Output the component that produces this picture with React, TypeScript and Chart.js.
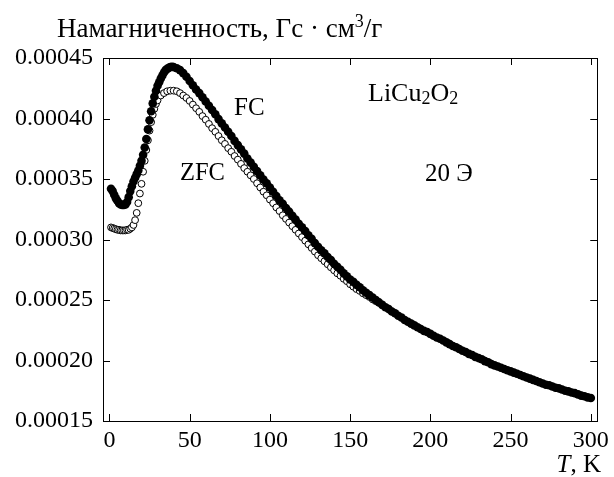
import React, { useEffect, useRef } from "react";
import { Chart, registerables } from "chart.js";
Chart.register(...registerables);

// FC (field cooled) magnetization, emu/g vs T, K
const fcT = [1,2,3,4,5,6,7,8,9,10,11,12,13,14,15,16,17,18,19,20,21,22,23,24,25,26,27,28,29,30,31,32,33,34,35,36,37,38,39,40,42,44,46,48,50,52,54,56,58,60,62,64,66,68,70,72,74,76,78,80,82,84,86,88,90,92,94,96,98,100,102,104,106,108,110,112,114,116,118,120,122,124,126,128,130,132,134,136,138,140,142,144,146,148,150,152,154,156,158,160,162,164,166,168,170,172,174,176,178,180,182,184,186,188,190,192,194,196,198,200,202,204,206,208,210,212,214,216,218,220,222,224,226,228,230,232,234,236,238,240,242,244,246,248,250,252,254,256,258,260,262,264,266,268,270,272,274,276,278,280,282,284,286,288,290,292,294,296,298,300];
const fcM = [3.42e-4,3.40e-4,3.37e-4,3.34e-4,3.32e-4,3.30e-4,3.29e-4,3.285e-4,3.285e-4,3.29e-4,3.31e-4,3.35e-4,3.40e-4,3.44e-4,3.48e-4,3.51e-4,3.54e-4,3.57e-4,3.61e-4,3.65e-4,3.70e-4,3.76e-4,3.83e-4,3.91e-4,3.985e-4,4.06e-4,4.125e-4,4.18e-4,4.23e-4,4.27e-4,4.30e-4,4.33e-4,4.355e-4,4.38e-4,4.40e-4,4.41e-4,4.42e-4,4.425e-4,4.427e-4,4.425e-4,4.415e-4,4.40e-4,4.375e-4,4.345e-4,4.31e-4,4.275e-4,4.24e-4,4.21e-4,4.175e-4,4.14e-4,4.105e-4,4.07e-4,4.035e-4,3.995e-4,3.96e-4,3.925e-4,3.89e-4,3.855e-4,3.815e-4,3.78e-4,3.745e-4,3.71e-4,3.67e-4,3.635e-4,3.60e-4,3.565e-4,3.53e-4,3.495e-4,3.465e-4,3.43e-4,3.395e-4,3.36e-4,3.325e-4,3.295e-4,3.26e-4,3.23e-4,3.195e-4,3.165e-4,3.13e-4,3.10e-4,3.07e-4,3.035e-4,3.005e-4,2.97e-4,2.94e-4,2.91e-4,2.885e-4,2.855e-4,2.83e-4,2.80e-4,2.775e-4,2.75e-4,2.72e-4,2.695e-4,2.67e-4,2.65e-4,2.625e-4,2.605e-4,2.58e-4,2.56e-4,2.54e-4,2.52e-4,2.50e-4,2.48e-4,2.46e-4,2.44e-4,2.425e-4,2.405e-4,2.39e-4,2.37e-4,2.355e-4,2.335e-4,2.32e-4,2.305e-4,2.29e-4,2.275e-4,2.26e-4,2.245e-4,2.235e-4,2.22e-4,2.205e-4,2.19e-4,2.18e-4,2.165e-4,2.15e-4,2.135e-4,2.12e-4,2.11e-4,2.095e-4,2.08e-4,2.07e-4,2.055e-4,2.045e-4,2.03e-4,2.02e-4,2.01e-4,1.995e-4,1.985e-4,1.97e-4,1.96e-4,1.95e-4,1.94e-4,1.93e-4,1.92e-4,1.91e-4,1.90e-4,1.89e-4,1.88e-4,1.87e-4,1.86e-4,1.85e-4,1.84e-4,1.83e-4,1.82e-4,1.81e-4,1.80e-4,1.795e-4,1.785e-4,1.775e-4,1.77e-4,1.76e-4,1.75e-4,1.745e-4,1.735e-4,1.73e-4,1.72e-4,1.71e-4,1.705e-4,1.695e-4,1.69e-4];

// ZFC (zero field cooled)
const zfcT = [1,2,3,4,5,6,7,8,9,10,11,12,13,14,15,16,17,18,19,20,21,22,23,24,25,26,27,28,29,30,32,34,36,38,40,42,44,46,48,50,52,54,56,58,60,62,64,66,68,70,72,74,76,78,80,82,84,86,88,90,92,94,96,98,100,102,104,106,108,110,112,114,116,118,120,122,124,126,128,130,132,134,136,138,140,142,144,146,148,150,152,154,156,158,160,162,164,166];
const zfcM = [3.10e-4,3.095e-4,3.09e-4,3.085e-4,3.08e-4,3.08e-4,3.075e-4,3.075e-4,3.075e-4,3.075e-4,3.08e-4,3.08e-4,3.09e-4,3.10e-4,3.12e-4,3.16e-4,3.22e-4,3.30e-4,3.38e-4,3.46e-4,3.56e-4,3.65e-4,3.74e-4,3.82e-4,3.90e-4,3.97e-4,4.03e-4,4.08e-4,4.12e-4,4.15e-4,4.19e-4,4.21e-4,4.225e-4,4.23e-4,4.23e-4,4.225e-4,4.21e-4,4.19e-4,4.17e-4,4.145e-4,4.115e-4,4.085e-4,4.055e-4,4.02e-4,3.99e-4,3.955e-4,3.92e-4,3.89e-4,3.855e-4,3.82e-4,3.79e-4,3.755e-4,3.725e-4,3.69e-4,3.66e-4,3.625e-4,3.59e-4,3.56e-4,3.53e-4,3.50e-4,3.465e-4,3.43e-4,3.395e-4,3.365e-4,3.33e-4,3.30e-4,3.265e-4,3.235e-4,3.20e-4,3.17e-4,3.14e-4,3.11e-4,3.08e-4,3.05e-4,3.02e-4,2.99e-4,2.96e-4,2.93e-4,2.90e-4,2.87e-4,2.845e-4,2.82e-4,2.795e-4,2.77e-4,2.745e-4,2.72e-4,2.70e-4,2.675e-4,2.655e-4,2.63e-4,2.61e-4,2.59e-4,2.575e-4,2.555e-4,2.54e-4,2.525e-4,2.505e-4,2.49e-4];

const xTicks = [0, 50, 100, 150, 200, 250, 300];
const yTicks = [0.00015, 0.0002, 0.00025, 0.0003, 0.00035, 0.0004, 0.00045];
const yTickLabels = ["0.00015", "0.00020", "0.00025", "0.00030", "0.00035", "0.00040", "0.00045"];

const SERIF = "'Liberation Serif', 'Times New Roman', serif";

const framePlugin = {
  id: "frameAndText",
  afterDraw(chart: any) {
    const { ctx, chartArea: a, scales } = chart;
    const xs = scales.x, ys = scales.y;
    ctx.save();
    ctx.strokeStyle = "#000";
    ctx.lineWidth = 1;
    ctx.strokeRect(Math.round(a.left) + 0.5, Math.round(a.top) + 0.5, Math.round(a.right - a.left), Math.round(a.bottom - a.top));
    const TL = 7;
    ctx.beginPath();
    xTicks.forEach((v) => {
      const px = Math.round(xs.getPixelForValue(v)) + 0.5;
      ctx.moveTo(px, a.bottom); ctx.lineTo(px, a.bottom - TL);
      ctx.moveTo(px, a.top); ctx.lineTo(px, a.top + TL);
    });
    yTicks.forEach((v) => {
      const py = Math.round(ys.getPixelForValue(v)) + 0.5;
      ctx.moveTo(a.left, py); ctx.lineTo(a.left + TL, py);
      ctx.moveTo(a.right, py); ctx.lineTo(a.right - TL, py);
    });
    ctx.stroke();

    ctx.fillStyle = "#000";
    ctx.textBaseline = "alphabetic";
    ctx.textAlign = "left";
    const F = (s: number, it = false) => `${it ? "italic " : ""}${s}px ${SERIF}`;
    const seq = (x: number, y: number, parts: [string, number, number, boolean?][]) => {
      let cx = x;
      parts.forEach(([t, size, dy, it]) => {
        ctx.font = F(size, !!it);
        ctx.fillText(t, cx, y + dy);
        cx += ctx.measureText(t).width;
      });
    };
    // y-axis title
    seq(57, 37, [["Намагниченность, Гс · см", 27, 0], ["3", 18, -10], ["/г", 27, 0]]);
    // x-axis title
    ctx.font = F(25, true);
    const wT = ctx.measureText("T").width;
    ctx.font = F(25);
    const wK = ctx.measureText(", K").width;
    seq(601 - wT - wK, 472, [["T", 25, 0, true], [", K", 25, 0]]);
    // annotations
    seq(234, 115, [["FC", 25, 0]]);
    seq(180, 180, [["ZFC", 24.5, 0]]);
    seq(368, 101, [["LiCu", 26, 0], ["2", 18, 3], ["O", 26, 0], ["2", 18, 3]]);
    seq(425, 181, [["20 Э", 25, 0]]);
    ctx.restore();
  },
};

export default function App() {
  const ref = useRef<HTMLCanvasElement>(null);
  useEffect(() => {
    if (!ref.current) return;
    const chart = new Chart(ref.current, {
      type: "scatter",
      data: {
        datasets: [
          {
            label: "FC",
            data: fcT.map((t, i) => ({ x: t, y: fcM[i] })),
            pointRadius: 4.3,
            pointBorderWidth: 0,
            pointBackgroundColor: "#000",
            pointBorderColor: "#000",
            showLine: false,
          },
          {
            label: "ZFC",
            data: zfcT.map((t, i) => ({ x: t, y: zfcM[i] })),
            pointRadius: 3.4,
            pointBorderWidth: 1,
            pointBackgroundColor: "#fff",
            pointBorderColor: "#000",
            showLine: false,
          },
        ],
      },
      options: {
        responsive: false,
        animation: false,
        layout: { padding: { top: 58, right: 12, left: 0, bottom: 0 } },
        plugins: { legend: { display: false }, tooltip: { enabled: false }, title: { display: false } },
        scales: {
          x: {
            type: "linear",
            min: -4,
            max: 304,
            grid: { display: false, drawTicks: false },
            border: { display: false },
            afterBuildTicks: (s: any) => { s.ticks = xTicks.map((v) => ({ value: v })); },
            afterFit: (s: any) => { s.height = 56; },
            ticks: {
              padding: 5,
              color: "#000",
              font: { family: SERIF, size: 24 },
              maxRotation: 0,
              autoSkip: false,
              callback: (v: any) => String(v),
            },
          },
          y: {
            type: "linear",
            min: 0.00015,
            max: 0.00045,
            grid: { display: false, drawTicks: false },
            border: { display: false },
            afterBuildTicks: (s: any) => { s.ticks = yTicks.map((v) => ({ value: v })); },
            afterFit: (s: any) => { s.width = 103; },
            ticks: {
              padding: 10,
              color: "#000",
              font: { family: SERIF, size: 24 },
              autoSkip: false,
              callback: (v: any) => {
                const i = yTicks.findIndex((t) => Math.abs(t - v) < 1e-9);
                return i >= 0 ? yTickLabels[i] : "";
              },
            },
          },
        },
      },
      plugins: [framePlugin],
    } as any);
    return () => chart.destroy();
  }, []);
  return (
    <div style={{ position: "absolute", left: 0, top: 0, width: 614, height: 477, background: "#fff" }}>
      <canvas ref={ref} width={614} height={477} style={{ display: "block" }} />
    </div>
  );
}
